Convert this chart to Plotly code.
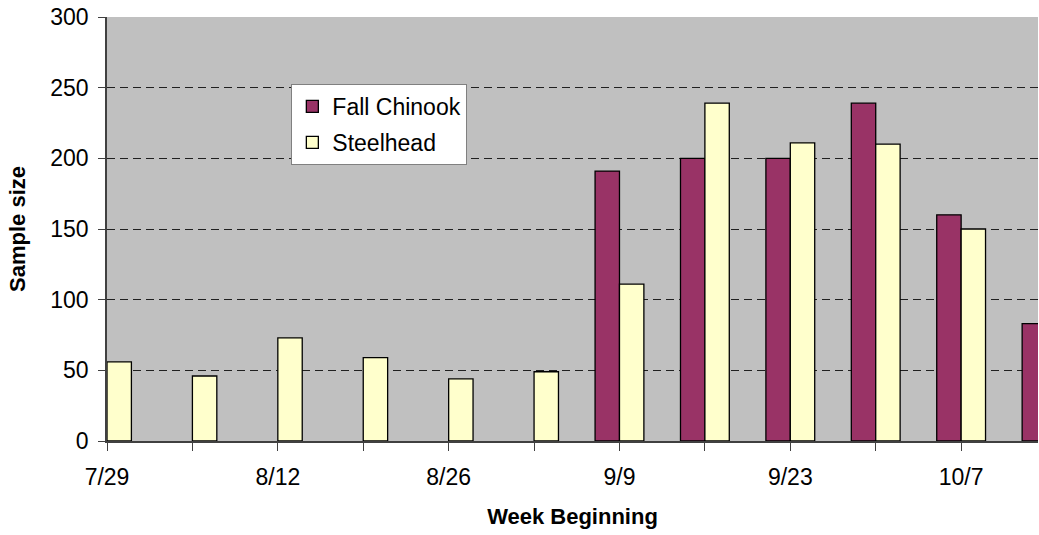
import plotly.graph_objects as go

weeks = ["7/29", "8/5", "8/12", "8/19", "8/26", "9/2", "9/9", "9/16", "9/23", "9/30", "10/7", "10/14"]
tick_labels = ["7/29", "", "8/12", "", "8/26", "", "9/9", "", "9/23", "", "10/7", ""]
fall_chinook = [None, None, None, None, None, None, 191, 200, 200, 239, 160, 83]
steelhead = [56, 46, 73, 59, 44, 49, 111, 239, 211, 210, 150, None]

idx = list(range(len(weeks)))
bar_w = 0.2857

fig = go.Figure()
fig.add_trace(go.Bar(
    x=idx, y=fall_chinook, name="Fall Chinook", legendgroup="a",
    width=bar_w, offset=-bar_w,
    marker=dict(color="#993366", line=dict(color="#000000", width=1.3)),
    customdata=weeks,
))
fig.add_trace(go.Bar(
    x=idx, y=steelhead, name="Steelhead", legendgroup="b",
    width=bar_w, offset=0,
    marker=dict(color="#FFFFCC", line=dict(color="#000000", width=1.3)),
    customdata=weeks,
))

font_family = "Liberation Sans, Arial, sans-serif"

fig.update_layout(
    width=1039, height=535,
    margin=dict(l=107, r=1, t=17, b=94),
    paper_bgcolor="white",
    plot_bgcolor="#C0C0C0",
    barmode="overlay",
    font=dict(family=font_family, size=23, color="#000000"),
    showlegend=True,
    legend=dict(
        x=0.198, y=0.842, xanchor="left", yanchor="top",
        bgcolor="white", bordercolor="#808080", borderwidth=1,
        font=dict(family=font_family, size=23, color="#000000"),
        tracegroupgap=3, traceorder="grouped", itemwidth=30,
    ),
    xaxis=dict(
        range=[0, 10.9],
        tickmode="array", tickvals=idx, ticktext=tick_labels,
        ticks="outside", ticklen=8, tickcolor="#404040", tickwidth=1,
        showline=True, linecolor="#404040", linewidth=1.5,
        showgrid=False, zeroline=False,
        tickfont=dict(size=23), ticklabelstandoff=7,
        title=dict(text="<b>Week Beginning</b>", font=dict(size=22), standoff=19),
        automargin=False,
    ),
    yaxis=dict(
        range=[0, 300],
        tickmode="array", tickvals=[0, 50, 100, 150, 200, 250, 300],
        ticks="outside", ticklen=7, tickcolor="#404040", tickwidth=1,
        showline=True, linecolor="#404040", linewidth=1.5,
        showgrid=True, gridcolor="#202020", gridwidth=1, griddash="8px,5px",
        zeroline=False,
        tickfont=dict(size=23), ticklabelstandoff=5,
        title=dict(text="<b>Sample size</b>", font=dict(size=22), standoff=19),
        automargin=False,
    ),
)

fig.write_html(
    "out.html",
    config={"displayModeBar": False},
    post_script="document.body.style.margin='0px';",
)
